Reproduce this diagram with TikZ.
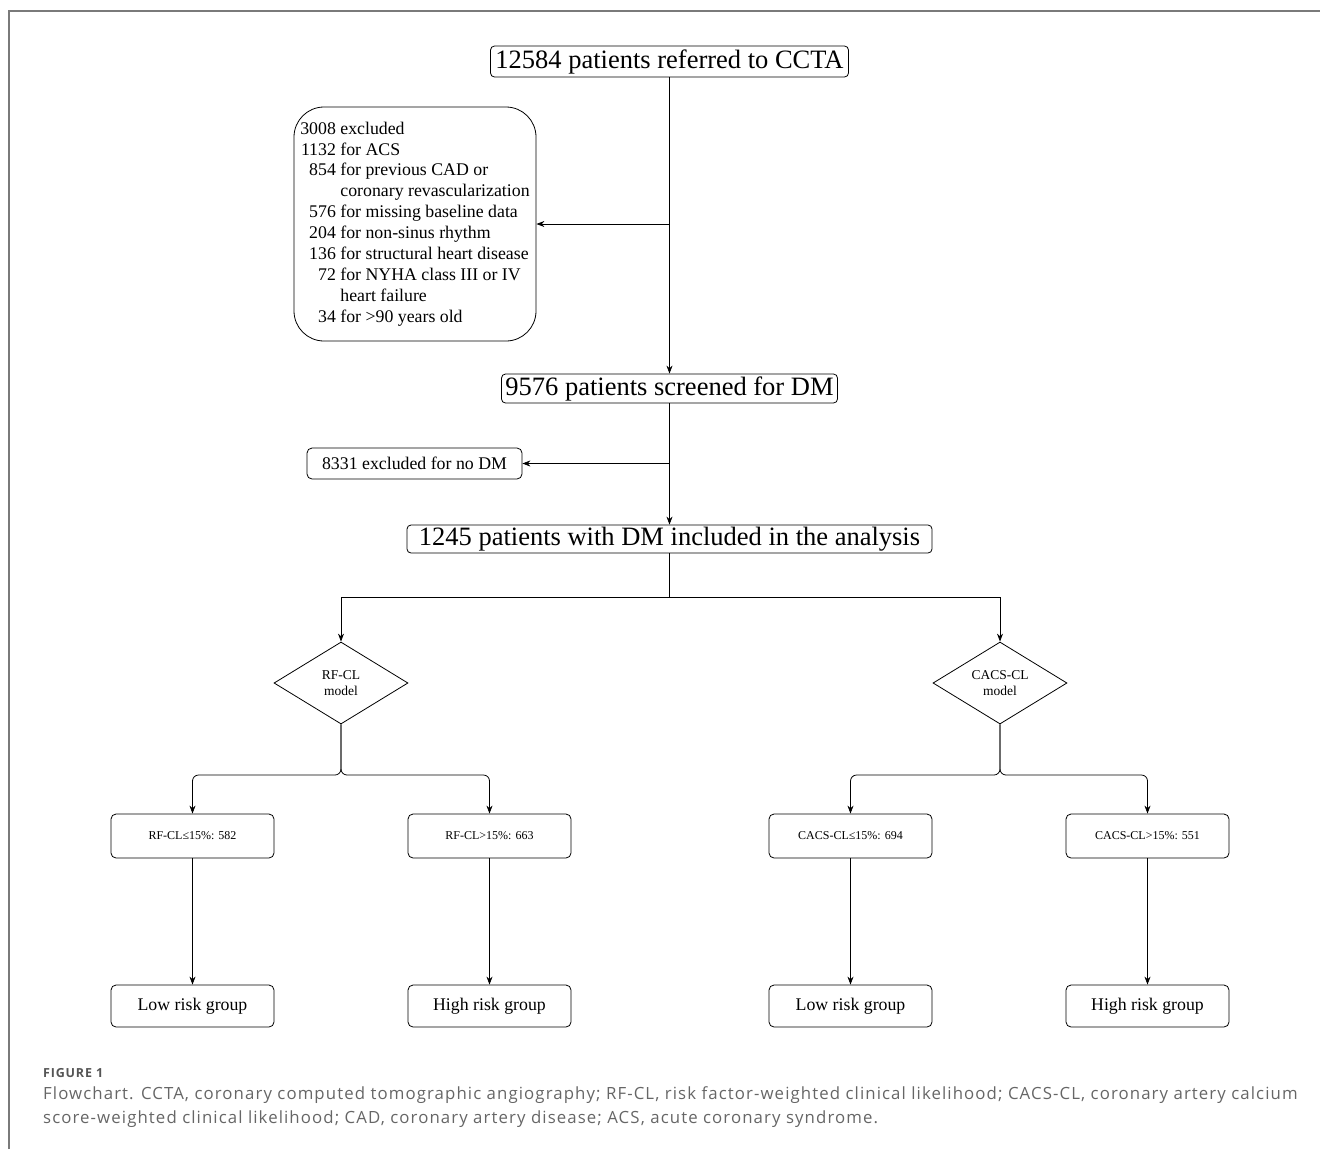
\documentclass[tikz,border=0pt]{standalone}
\usepackage{fontspec}
\setmainfont{Liberation Serif}
\newfontfamily\capfont[LetterSpace=6.5]{Open Sans}
\usetikzlibrary{arrows.meta,shapes.geometric}
\definecolor{capgray}{HTML}{666666}
\definecolor{figgray}{HTML}{555555}
\definecolor{framegray}{HTML}{7A7A7A}
\begin{document}
\begin{tikzpicture}[x=1pt,y=-1pt,
  arr/.style={-{Stealth[length=8pt,width=6pt]}, line width=0.8pt},
  ln/.style={line width=0.8pt},
  bigbox/.style={draw, line width=0.8pt, rounded corners=4pt, inner sep=0pt, font=\fontsize{26.5}{30}\selectfont},
  midbox/.style={draw, line width=0.8pt, rounded corners=5pt, inner sep=0pt, font=\fontsize{17.8}{20.9}\selectfont},
  smallbox/.style={draw, line width=0.8pt, rounded corners=5pt, inner sep=0pt, minimum width=163pt, minimum height=44pt, font=\fontsize{12}{14}\selectfont},
  grpbox/.style={draw, line width=0.8pt, rounded corners=5pt, inner sep=0pt, minimum width=163pt, minimum height=42pt, font=\fontsize{17.8}{20.9}\selectfont},
  dia/.style={draw, line width=0.8pt, shape=diamond, aspect=1.634, inner sep=0pt, minimum width=134pt, minimum height=82pt, align=center, font=\fontsize{13.5}{16}\selectfont},
  captxt/.style={anchor=base west, inner sep=0pt, text=capgray, font=\capfont\fontsize{16.8}{20}\selectfont}
]
\useasboundingbox (0,0) rectangle (1320,1149);
\draw[framegray, line width=1.2pt] (9,1149) -- (9,11) -- (1320,11);

\node[bigbox, minimum width=358pt, minimum height=31pt] (n1) at (669.5,61.5) {12584 patients referred to CCTA};
\node[bigbox, minimum width=336pt, minimum height=29pt] (n2) at (669.5,388.5) {9576 patients screened for DM};
\node[bigbox, minimum width=525pt, minimum height=28pt] (n3) at (669.5,539) {1245 patients with DM included in the analysis};

\node[draw, line width=0.8pt, rounded corners=30pt, inner sep=0pt, minimum width=242pt, minimum height=234pt, font=\fontsize{17.8}{20.9}\selectfont] (ex) at (415,224)
{\begin{tabular}{@{}r@{\ }l@{}}
3008 & excluded\\
1132 & for ACS\\
854 & for previous CAD or\\
 & coronary revascularization\\
576 & for missing baseline data\\
204 & for non-sinus rhythm\\
136 & for structural heart disease\\
72 & for NYHA class III or IV\\
 & heart failure\\
34 & for >90 years old
\end{tabular}};

\node[midbox, minimum width=215pt, minimum height=31pt] (nodm) at (414.5,463.5) {8331 excluded for no DM};

\node[dia] (dL) at (341,683) {RF-CL\\model};
\node[dia] (dR) at (1000,683) {CACS-CL\\model};

\node[smallbox] (b1) at (192.5,836) {RF-CL≤15\%: 582};
\node[smallbox] (b2) at (489.5,836) {RF-CL>15\%: 663};
\node[smallbox] (b3) at (850.5,836) {CACS-CL≤15\%: 694};
\node[smallbox] (b4) at (1147.5,836) {CACS-CL>15\%: 551};

\node[grpbox] (g1) at (192.5,1006) {Low risk group};
\node[grpbox] (g2) at (489.5,1006) {High risk group};
\node[grpbox] (g3) at (850.5,1006) {Low risk group};
\node[grpbox] (g4) at (1147.5,1006) {High risk group};

\draw[arr] (n1.south) -- (n2.north);
\coordinate (c1) at (669.5,224);
\draw[arr] (c1) -- (ex.east);
\draw[arr] (n2.south) -- (n3.north);
\coordinate (c2) at (669.5,463.5);
\draw[arr] (c2) -- (nodm.east);
\coordinate (c3) at (669.5,597);
\draw[ln] (n3.south) -- (c3);
\draw[arr] (c3) -| (dL.north);
\draw[arr] (c3) -| (dR.north);

\coordinate (sL) at (341,775);
\coordinate (sR) at (1000,775);
\draw[arr, rounded corners=6pt] (dL.south) -- (sL) -| (b1.north);
\draw[arr, rounded corners=6pt] (dL.south) -- (sL) -| (b2.north);
\draw[arr, rounded corners=6pt] (dR.south) -- (sR) -| (b3.north);
\draw[arr, rounded corners=6pt] (dR.south) -- (sR) -| (b4.north);

\draw[arr] (b1.south) -- (g1.north);
\draw[arr] (b2.south) -- (g2.north);
\draw[arr] (b3.south) -- (g3.north);
\draw[arr] (b4.south) -- (g4.north);

\node[captxt, text=figgray, font=\capfont\bfseries\fontsize{12.5}{14}\selectfont] (fig) at (43,1077) {FIGURE 1};
\node[captxt] (cap1) at (43,1099) {Flowchart. CCTA, coronary computed tomographic angiography; RF-CL, risk factor-weighted clinical likelihood; CACS-CL, coronary artery calcium};
\node[captxt] (cap2) at (43,1123) {score-weighted clinical likelihood; CAD, coronary artery disease; ACS, acute coronary syndrome.};
\end{tikzpicture}
\end{document}
